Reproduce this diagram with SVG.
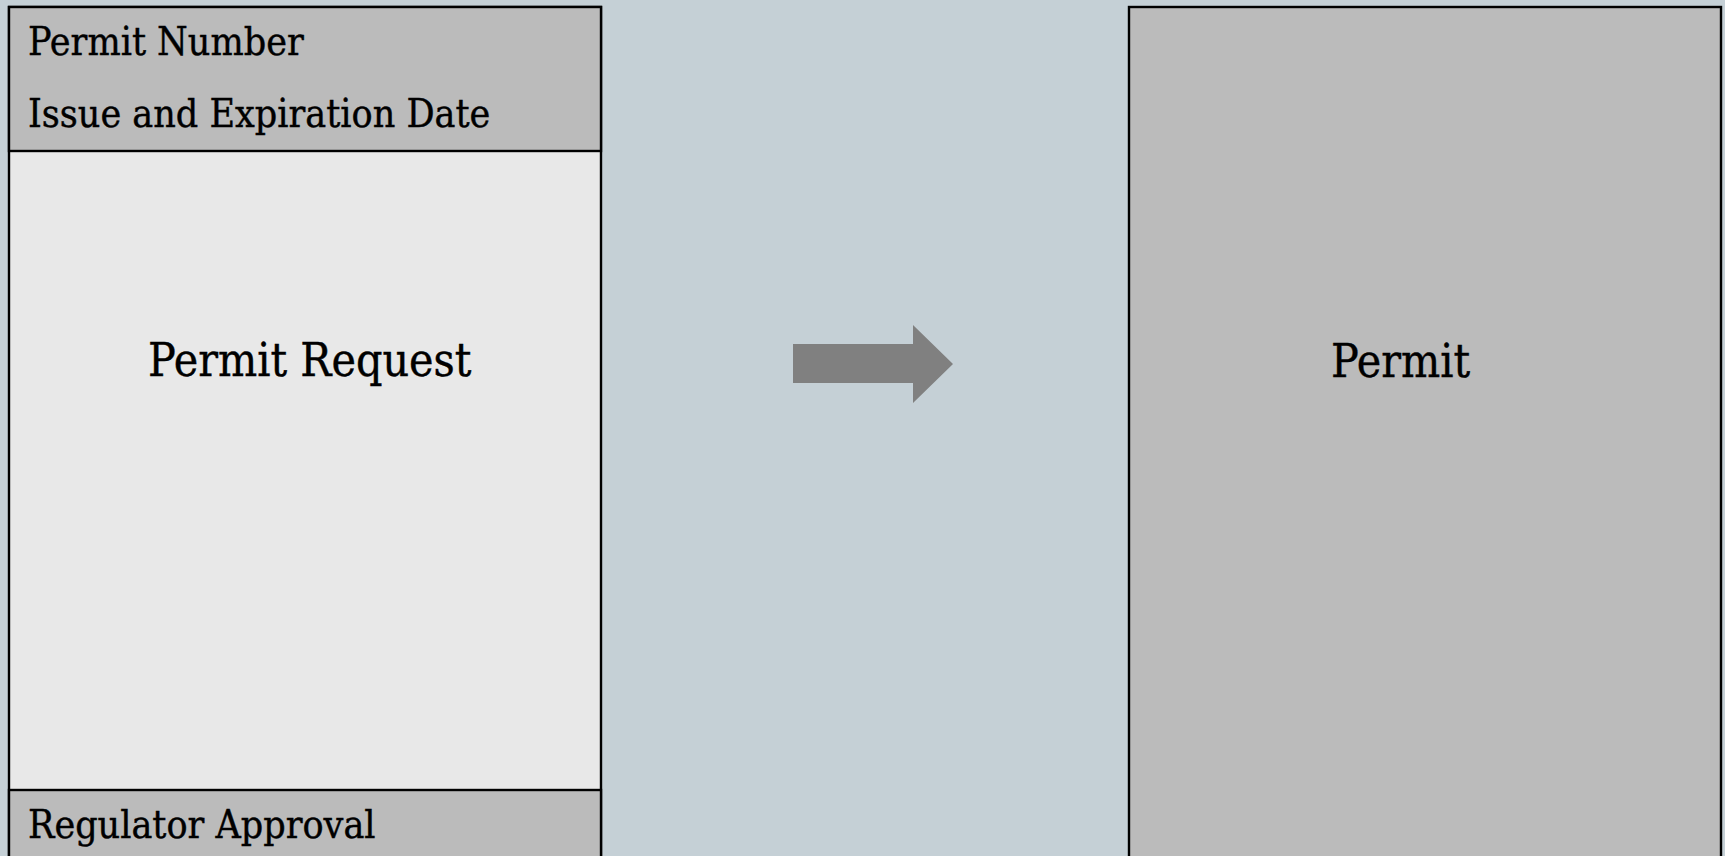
<svg xmlns="http://www.w3.org/2000/svg" width="1725" height="856" viewBox="0 0 1725 856">
<style>
.box{stroke:#000;stroke-width:2.4}
.hd{fill:#BBBBBB}
.bd{fill:#E8E8E8}
text{font-family:"DejaVu Serif Condensed","DejaVu Serif","Liberation Serif",serif;font-stretch:condensed;fill:#000;stroke:#000;stroke-width:0.4}
.s{font-size:39px}
.l{font-size:46px}
</style>
<rect width="1725" height="856" fill="#C5D0D6"/>
<g id="permit-request">
<rect class="box bd" x="9" y="7" width="592" height="860"/>
<rect class="box hd" x="9" y="7" width="592" height="144"/>
<rect class="box hd" x="9" y="790" width="592" height="80"/>
<text class="s" x="28" y="55">Permit Number</text>
<text class="s" x="28" y="127">Issue and Expiration Date</text>
<text class="l" x="148" y="376">Permit Request</text>
<text class="s" x="28" y="838">Regulator Approval</text>
</g>
<g id="connectors">
<polygon points="793,344 913,344 913,325 953,364 913,403 913,383 793,383" fill="#808080"/>
</g>
<g id="permit">
<rect class="box hd" x="1129" y="7" width="592" height="860"/>
<text class="l" x="1331" y="377">Permit</text>
</g>
</svg>
